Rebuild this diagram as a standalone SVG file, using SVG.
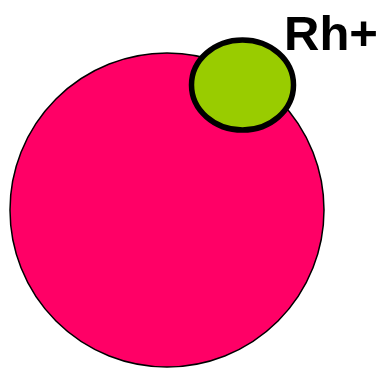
<svg xmlns="http://www.w3.org/2000/svg" width="379" height="371" viewBox="0 0 379 371">
<style>
.cell{fill:#FF0066;stroke:#000;stroke-width:1.5}
.rh{fill:#99CC00;stroke:#000;stroke-width:5.5}
.lbl{font-family:"Liberation Sans",Arial,sans-serif;font-weight:bold;font-size:49px;fill:#000}
</style>
<g id="cell"><circle class="cell" cx="167" cy="210" r="157"/></g>
<g id="antigen"><ellipse class="rh" cx="242.5" cy="85" rx="51" ry="45"/></g>
<g id="label"><text class="lbl" x="284" y="50">Rh+</text></g>
</svg>
